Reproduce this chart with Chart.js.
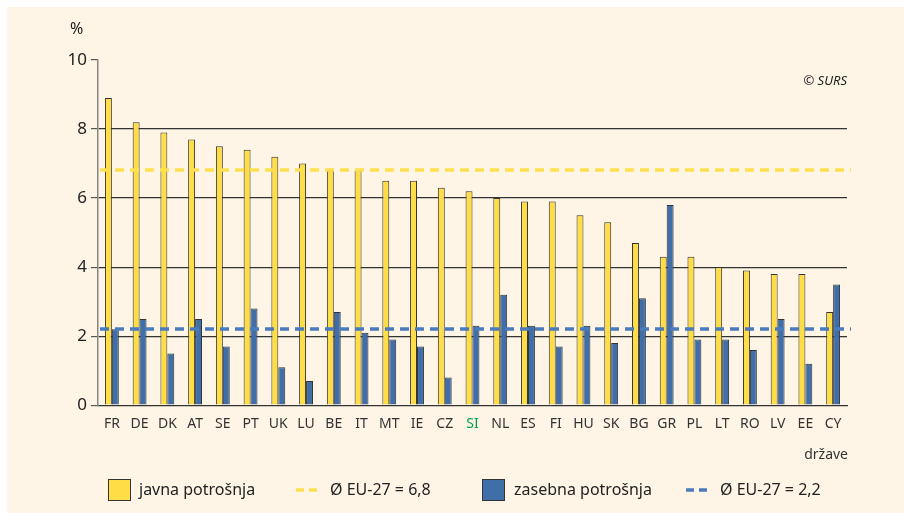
<!DOCTYPE html>
<html>
<head>
<meta charset="utf-8">
<script src="https://cdn.jsdelivr.net/npm/chart.js@4.4.1/dist/chart.umd.min.js"></script>
<style>
  html, body { margin: 0; padding: 0; background: #fff; }
  #wrap { position: relative; width: 904px; height: 513px; }
</style>
</head>
<body>
<div id="wrap"><canvas id="c" width="904" height="513"></canvas></div>
<script>
const countries = ["FR", "DE", "DK", "AT", "SE", "PT", "UK", "LU", "BE", "IT", "MT", "IE", "CZ", "SI",
  "NL", "ES", "FI", "HU", "SK", "BG", "GR", "PL", "LT", "RO", "LV", "EE", "CY"];
const javna = [8.9, 8.2, 7.9, 7.7, 7.5, 7.4, 7.2, 7.0, 6.8, 6.8, 6.5, 6.5, 6.3, 6.2,
  6.0, 5.9, 5.9, 5.5, 5.3, 4.7, 4.3, 4.3, 4.0, 3.9, 3.8, 3.8, 2.7];
const zasebna = [2.2, 2.5, 1.5, 2.5, 1.7, 2.8, 1.1, 0.7, 2.7, 2.1, 1.9, 1.7, 0.8, 2.3,
  3.2, 2.3, 1.7, 2.3, 1.8, 3.1, 5.8, 1.9, 1.9, 1.6, 2.5, 1.2, 3.5];
const avgJavna = 6.8;
const avgZasebna = 2.2;
const yTicks = [0, 2, 4, 6, 8, 10];

const YELLOW = "#ffdd47";
const BLUE = "#3f6ea9";
const DASH_YELLOW = "#ffe04f";
const DASH_BLUE = "#4a7cbd";
const FONT = "'Noto Sans', 'Open Sans', sans-serif";

// background, average lines and extra texts
const decor = {
  id: "decor",
  beforeDraw(chart) {
    const ctx = chart.ctx;
    ctx.save();
    ctx.fillStyle = "#fff";
    ctx.fillRect(0, 0, chart.width, chart.height);
    ctx.fillStyle = "#fef5e6";
    ctx.fillRect(7, 7, chart.width - 7, chart.height - 7);
    ctx.restore();
  },
  afterDatasetsDraw(chart) {
    const ctx = chart.ctx;
    const y = chart.scales.y;
    const a = chart.chartArea;
    ctx.save();
    ctx.lineWidth = 3.5;
    ctx.setLineDash([9, 6]);
    [[avgJavna, DASH_YELLOW], [avgZasebna, DASH_BLUE]].forEach(([v, col]) => {
      const py = Math.round(y.getPixelForValue(v));
      ctx.strokeStyle = col;
      ctx.beginPath();
      ctx.moveTo(a.left + 2, py);
      ctx.lineTo(a.right + 4, py);
      ctx.stroke();
    });
    ctx.setLineDash([]);

    ctx.fillStyle = "#222";
    ctx.textBaseline = "middle";
    ctx.font = "16px " + FONT;
    ctx.textAlign = "left";
    ctx.fillText("%", 70, 29);
    ctx.font = "italic 13px " + FONT;
    ctx.textAlign = "right";
    ctx.fillText("© SURS", a.right, 81);
    ctx.font = "14px " + FONT;
    ctx.fillStyle = "#333";
    ctx.fillText("države", 848, 455);

    // legend
    const ly = 490;
    ctx.textAlign = "left";
    ctx.font = "16px " + FONT;
    ctx.lineWidth = 1;
    ctx.fillStyle = YELLOW;
    ctx.fillRect(108, 479, 23, 22);
    ctx.strokeStyle = "#333";
    ctx.strokeRect(108.5, 479.5, 22, 21);
    ctx.fillStyle = "#222";
    ctx.fillText("javna potrošnja", 139, ly);

    ctx.lineWidth = 3.5;
    ctx.setLineDash([8, 5]);
    ctx.strokeStyle = DASH_YELLOW;
    ctx.beginPath(); ctx.moveTo(296, ly); ctx.lineTo(322, ly); ctx.stroke();
    ctx.strokeStyle = DASH_BLUE;
    ctx.beginPath(); ctx.moveTo(686, ly); ctx.lineTo(712, ly); ctx.stroke();
    ctx.setLineDash([]);
    ctx.fillText("Ø EU-27 = 6,8", 330, ly);

    ctx.lineWidth = 1;
    ctx.fillStyle = BLUE;
    ctx.fillRect(482, 479, 23, 22);
    ctx.strokeStyle = "#333";
    ctx.strokeRect(482.5, 479.5, 22, 21);
    ctx.fillStyle = "#222";
    ctx.fillText("zasebna potrošnja", 514, ly);
    ctx.fillText("Ø EU-27 = 2,2", 720, ly);
    ctx.restore();
  }
};

new Chart(document.getElementById("c"), {
  type: "bar",
  data: {
    labels: countries,
    datasets: [
      { label: "javna potrošnja", data: javna, backgroundColor: YELLOW,
        borderColor: "#333", borderWidth: 1, borderSkipped: "bottom" },
      { label: "zasebna potrošnja", data: zasebna, backgroundColor: BLUE,
        borderColor: "#333", borderWidth: 1, borderSkipped: "bottom" }
    ]
  },
  options: {
    responsive: false,
    animation: false,
    layout: { padding: { left: 0, right: 57, top: 60, bottom: 71 } },
    plugins: { legend: { display: false }, tooltip: { enabled: false } },
    datasets: { bar: { categoryPercentage: 0.5, barPercentage: 1.0 } },
    scales: {
      x: {
        grid: { display: false, drawTicks: false },
        border: { color: "#333", width: 1.2 },
        ticks: {
          padding: 10,
          font: { family: FONT, size: 14 },
          color: (c) => (countries[c.index] === "SI" ? "#00a04a" : "#333")
        }
      },
      y: {
        min: 0, max: 10,
        afterBuildTicks: (s) => { s.ticks = yTicks.map((v) => ({ value: v })); },
        afterFit: (s) => { s.width = 98; },
        grid: {
          color: (c) => (c.tick.value === 10 || c.tick.value === 0 ? "rgba(0,0,0,0)" : "#333"),
          tickColor: "#555",
          tickLength: 7,
          lineWidth: 1.2
        },
        border: { color: "#8a8580", width: 1.5 },
        ticks: {
          padding: 4,
          font: { family: FONT, size: 17 },
          color: "#222"
        }
      }
    }
  },
  plugins: [decor]
});
</script>
</body>
</html>
